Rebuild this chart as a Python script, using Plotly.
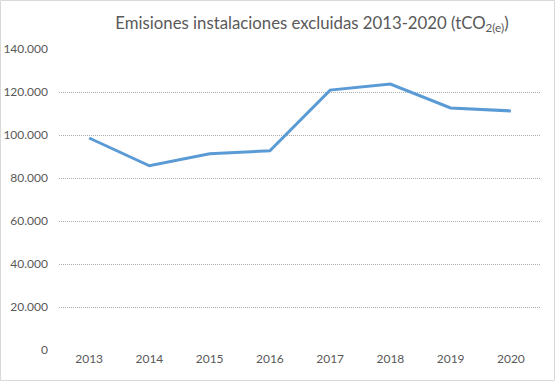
import plotly.graph_objects as go

years = ["2013", "2014", "2015", "2016", "2017", "2018", "2019", "2020"]
emisiones = [98600, 85700, 91300, 92700, 120900, 123700, 112600, 111200]
y_ticks = [0, 20000, 40000, 60000, 80000, 100000, 120000, 140000]
y_tick_labels = ["0", "20.000", "40.000", "60.000", "80.000", "100.000", "120.000", "140.000"]

W, H = 556, 381
ml, mr, mt, mb = 59, 15, 49, 31

fig = go.Figure()
fig.add_trace(go.Scatter(
    x=years, y=emisiones, mode="lines",
    line=dict(color="#5B9BD5", width=3),
    hoverinfo="skip", showlegend=False,
))

pw = W - ml - mr
ph = H - mt - mb
fig.add_shape(type="rect", xref="paper", yref="paper",
              x0=-(ml - 0.5) / pw, x1=1 + (mr - 1.5) / pw,
              y0=-(mb - 0.5) / ph, y1=1 + (mt - 0.5) / ph,
              line=dict(color="#D9D9D9", width=1), fillcolor="rgba(0,0,0,0)",
              layer="above")

fig.update_layout(
    width=W, height=H,
    margin=dict(l=ml, r=mr, t=mt, b=mb, autoexpand=False),
    paper_bgcolor="white", plot_bgcolor="white",
    font=dict(family="Lato, sans-serif", color="#595959", size=12),
    title=dict(
        text="Emisiones instalaciones excluidas 2013-2020 (tCO<sub>2(e)</sub>)",
        x=312 / W, xanchor="center", y=1 - 23 / H, yanchor="middle",
        font=dict(family="Lato, sans-serif", size=16.75, color="#595959"),
    ),
    xaxis=dict(
        type="category", showgrid=False, zeroline=False, showline=False,
        ticks="", tickfont=dict(size=12, color="#595959"),
        range=[-0.5, 7.5], fixedrange=True, automargin=False,
    ),
    yaxis=dict(
        range=[0, 140000], tickvals=y_ticks, ticktext=y_tick_labels,
        showgrid=True, gridcolor="#ADADAD", gridwidth=1, griddash="1px,1px",
        zeroline=False, showline=False, ticks="", ticklabelstandoff=10,
        tickfont=dict(size=12, color="#595959"), fixedrange=True,
        automargin=False,
    ),
)

fig.write_html(
    "out.html",
    config={"displayModeBar": False},
    post_script="document.body.style.margin='0';document.body.style.overflow='hidden';",
)
